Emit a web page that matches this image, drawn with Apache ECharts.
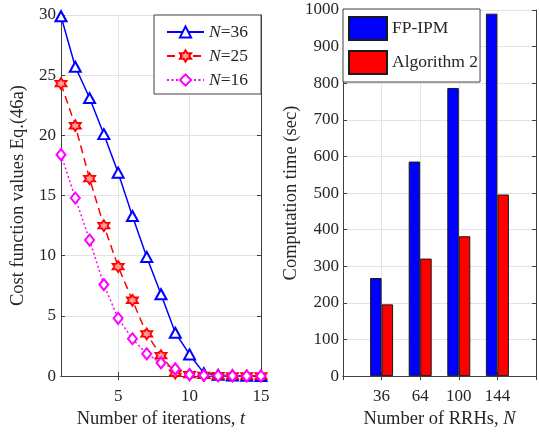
<!DOCTYPE html>
<html>
<head>
<meta charset="utf-8">
<script src="https://cdn.jsdelivr.net/npm/echarts@6/dist/echarts.min.js"></script>
<style>html,body{margin:0;padding:0;background:#fff;}#c{width:539px;height:434px;}</style>
</head>
<body>
<div id="c"></div>
<script>
// ---- data ----
var iterations = [1,2,3,4,5,6,7,8,9,10,11,12,13,14,15];
var costN36 = [29.9,25.7,23.1,20.1,16.9,13.3,9.9,6.8,3.6,1.8,0.25,0.1,0.05,0.02,0.01];
var costN25 = [24.3,20.8,16.4,12.5,9.1,6.3,3.5,1.7,0.25,0.12,0.06,0.03,0.02,0.01,0.01];
var costN16 = [18.4,14.8,11.3,7.6,4.8,3.1,1.85,1.1,0.6,0.12,0.06,0.03,0.02,0.01,0.01];
var leftXTicks = [5,10,15];
var rrhLabels = ['36','64','100','144'];
var timeFPIPM = [268,586,787,990];
var timeAlg2 = [196,321,382,496];

// ---- helpers ----
var FONT = 'Liberation Serif';
var TXT = '#262626';
var AX = '#404040';
var GRID = '#e3e3e3';
function pairs(xs, ys){ return xs.map(function(x,i){ return [x, ys[i]]; }); }
var cats = [''].concat(rrhLabels, ['']);
function pad(a){ return [null].concat(a, [null]); }
var hexagram = 'path://M0,-100L28.9,-50L86.6,-50L57.7,0L86.6,50L28.9,50L0,100L-28.9,50L-86.6,50L-57.7,0L-86.6,-50L-28.9,-50Z';
function plain(v){ return String(v); }

var chart = echarts.init(document.getElementById('c'), null, {renderer:'canvas'});
var tickStyle = {show:true, inside:true, length:4, lineStyle:{color:AX, width:1}};
var labelStyle = {color:TXT, fontFamily:FONT, fontSize:17};
var nameStyle = {color:TXT, fontFamily:FONT, fontSize:18.5, rich:{i:{fontStyle:'italic', fontFamily:FONT, fontSize:18.5, color:TXT}}};

var option = {
  animation:false,
  backgroundColor:'#fff',
  grid:[
    {left:61, right:278, top:15, bottom:56, show:false},
    {left:343, right:0, top:10, bottom:55, show:false}
  ],
  legend:[
    {
      orient:'vertical', left:154, top:15, padding:[8,13,5,12], itemGap:6,
      itemWidth:37, itemHeight:14,
      backgroundColor:'#fff', borderColor:AX, borderWidth:1,
      data:['N=36','N=25','N=16'],
      formatter:function(n){ return '{i|N}' + n.slice(1); },
      textStyle:{color:TXT, fontFamily:FONT, fontSize:17.5, lineHeight:17,
        rich:{i:{fontStyle:'italic', fontFamily:FONT, fontSize:17.5, color:TXT}}}
    },
    {
      orient:'vertical', left:343, top:9, padding:[7,2,7,5], itemGap:9,
      itemWidth:38, itemHeight:23, icon:'rect',
      backgroundColor:'#fff', borderColor:AX, borderWidth:1,
      data:['FP-IPM','Algorithm 2'],
      textStyle:{color:TXT, fontFamily:FONT, fontSize:17.5}
    }
  ],
  xAxis:[
    {gridIndex:0, type:'value', min:1, max:15,
      axisLine:{show:true, lineStyle:{color:AX}},
      axisTick:Object.assign({customValues:leftXTicks}, tickStyle),
      axisLabel:Object.assign({customValues:leftXTicks, margin:12, formatter:plain}, labelStyle),
      splitLine:{show:true, lineStyle:{color:GRID}},
      name:'Number of iterations, {i|t}', nameLocation:'middle', nameGap:32, nameTextStyle:nameStyle},
    {gridIndex:0, type:'value', min:1, max:15, position:'top',
      axisLine:{show:true, lineStyle:{color:AX}},
      axisTick:Object.assign({customValues:leftXTicks}, tickStyle),
      axisLabel:{show:false}, splitLine:{show:false}},
    {gridIndex:1, type:'category', data:cats, boundaryGap:false,
      axisLine:{show:true, lineStyle:{color:AX}},
      axisTick:Object.assign({alignWithLabel:true}, tickStyle),
      axisLabel:Object.assign({margin:12, interval:0}, labelStyle),
      splitLine:{show:true, lineStyle:{color:GRID}},
      name:'Number of RRHs, {i|N}', nameLocation:'middle', nameGap:33, nameTextStyle:nameStyle},
    {gridIndex:1, type:'category', data:cats, boundaryGap:false, position:'top',
      axisLine:{show:true, lineStyle:{color:AX}},
      axisTick:tickStyle, axisLabel:{show:false}, splitLine:{show:false}}
  ],
  yAxis:[
    {gridIndex:0, type:'value', min:0, max:30, interval:5,
      axisLine:{show:true, lineStyle:{color:AX}},
      axisTick:tickStyle,
      axisLabel:Object.assign({margin:5, formatter:plain}, labelStyle),
      splitLine:{show:true, lineStyle:{color:GRID}},
      name:'Cost function values Eq.(46a)', nameLocation:'middle', nameGap:33, nameTextStyle:nameStyle},
    {gridIndex:0, type:'value', min:0, max:30, interval:5, position:'right',
      axisLine:{show:true, lineStyle:{color:AX}},
      axisTick:tickStyle, axisLabel:{show:false}, splitLine:{show:false}},
    {gridIndex:1, type:'value', min:0, max:1000, interval:100,
      axisLine:{show:true, lineStyle:{color:AX}},
      axisTick:tickStyle,
      axisLabel:Object.assign({margin:4, formatter:plain}, labelStyle),
      splitLine:{show:true, lineStyle:{color:GRID}},
      name:'Computation time (sec)', nameLocation:'middle', nameGap:31, nameTextStyle:nameStyle},
    {gridIndex:1, type:'value', min:0, max:1000, interval:100, position:'right',
      axisLine:{show:true, lineStyle:{color:AX}},
      axisTick:tickStyle, axisLabel:{show:false}, splitLine:{show:false}}
  ],
  series:[
    {name:'N=36', type:'line', xAxisIndex:0, yAxisIndex:0, data:pairs(iterations, costN36),
      symbol:'emptyTriangle', symbolSize:[11,10], showAllSymbol:true,
      lineStyle:{color:'#0000ff', width:1.5}, itemStyle:{color:'#0000ff', borderWidth:1.5}},
    {name:'N=25', type:'line', xAxisIndex:0, yAxisIndex:0, data:pairs(iterations, costN25),
      symbol:hexagram, symbolSize:11, showAllSymbol:true,
      lineStyle:{color:'#ff0000', width:1.5, type:[8,5]}, itemStyle:{color:'#ff9a9a', borderColor:'#ff0000', borderWidth:1.8}},
    {name:'N=16', type:'line', xAxisIndex:0, yAxisIndex:0, data:pairs(iterations, costN16),
      symbol:'emptyDiamond', symbolSize:[9,11], showAllSymbol:true,
      lineStyle:{color:'#ff00ff', width:1.5, type:[2,2.5]}, itemStyle:{color:'#ff00ff', borderWidth:1.5}},
    {name:'FP-IPM', type:'bar', xAxisIndex:2, yAxisIndex:2, data:pad(timeFPIPM),
      barWidth:11.5, barGap:'0%',
      itemStyle:{color:'#0000ff', borderColor:'#1a1a1a', borderWidth:1}},
    {name:'Algorithm 2', type:'bar', xAxisIndex:2, yAxisIndex:2, data:pad(timeAlg2),
      barWidth:11.5, barGap:'0%',
      itemStyle:{color:'#ff0000', borderColor:'#1a1a1a', borderWidth:1}}
  ]
};
chart.setOption(option);
</script>
</body>
</html>
